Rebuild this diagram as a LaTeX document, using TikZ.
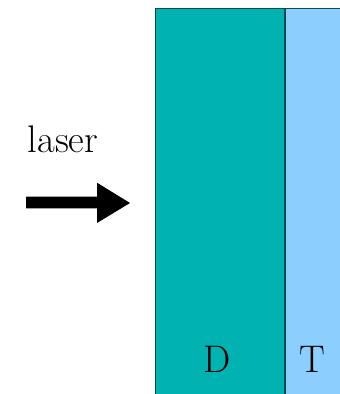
\documentclass[tikz,border=0pt]{standalone}
\usepackage{fontspec}
\definecolor{tealD}{HTML}{00B2B2}
\definecolor{blueT}{HTML}{8CCFFF}
\definecolor{edge}{HTML}{0A4A50}
\tikzset{
  layer/.style={draw=edge, line width=1.5pt},
  lbl/.style={font=\rmfamily\fontsize{38.5}{46}\selectfont, text=black, inner sep=0pt, anchor=base}
}
\begin{document}
\begin{tikzpicture}[x=1pt,y=1pt]
\useasboundingbox (0,0) rectangle (340,394);
\fill[white] (0,0) rectangle (340,394);
\begin{scope}
\clip (0,0) rectangle (340,394);
\draw[layer, fill=blueT] (285,385.7) rectangle (360,-20);
\draw[layer, fill=tealD] (155.5,385.7) rectangle (285,-20);
\end{scope}
\node[lbl] (D) at (217,21) {D};
\node[lbl] (T) at (312.5,21) {T};
\node[lbl] (laser) at (63,241) {laser};
\fill[black] (26,197.3) -- (97,197.3) -- (97,211.3) -- (130,191) -- (97,171) -- (97,185.7) -- (26,185.7) -- cycle;
\end{tikzpicture}
\end{document}
